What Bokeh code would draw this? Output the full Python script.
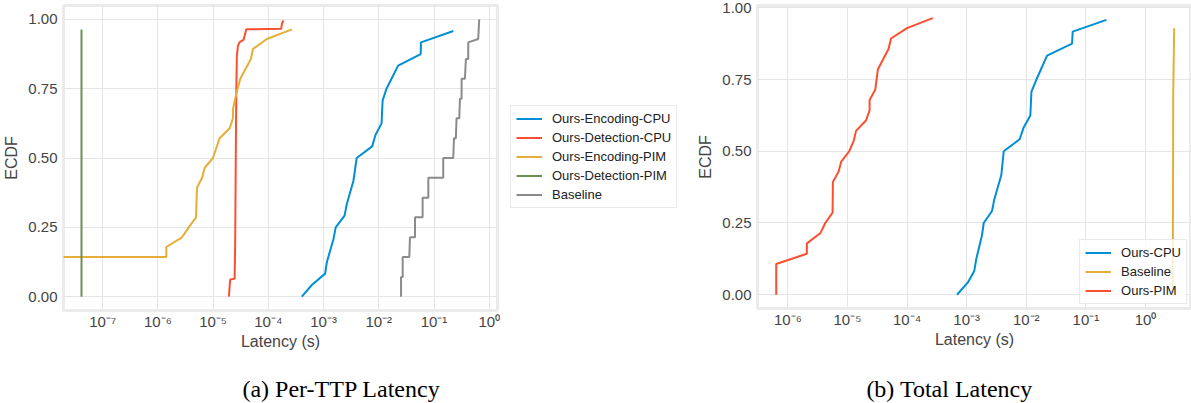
from bokeh.plotting import figure
from bokeh.models import (Range1d, FixedTicker, CustomJSTickFormatter, PrintfTickFormatter,
                          Legend, LegendItem, Label)
from bokeh.layouts import column, row
from bokeh.embed import file_html
from bokeh.resources import INLINE

# ---------------- data (latency in seconds, ECDF fraction) ----------------
# (a) Per-TTP latency
enc_cpu_x = [4.04e-4, 6.12e-4, 1.067e-3, 1.148e-3, 1.514e-3, 1.66e-3, 2.40e-3, 2.63e-3, 3.47e-3,
             3.98e-3, 7.59e-3, 8.71e-3, 1.122e-2, 1.175e-2, 1.38e-2, 2.24e-2, 5.75e-2, 5.8e-2, 0.224]
enc_cpu_y = [0.0, 0.042, 0.083, 0.125, 0.208, 0.25, 0.292, 0.333, 0.417,
             0.5, 0.542, 0.583, 0.625, 0.708, 0.75, 0.833, 0.875, 0.917, 0.958]

det_cpu_x = [1.93e-5, 1.995e-5, 2.04e-5, 2.45e-5, 2.51e-5, 2.57e-5, 2.63e-5, 2.69e-5, 2.82e-5,
             3.02e-5, 3.55e-5, 3.98e-5, 1.71e-4, 1.76e-4, 1.88e-4]
det_cpu_y = [0.0, 0.04, 0.062, 0.065, 0.2, 0.5, 0.75, 0.87, 0.905,
             0.918, 0.926, 0.964, 0.966, 0.985, 0.996]

enc_pim_x = [1e-9, 1.42e-6, 1.42e-6, 2.73e-6, 3.61e-6, 4.90e-6, 5.10e-6, 6.31e-6, 7.01e-6, 9.93e-6,
             1.14e-5, 1.31e-5, 1.99e-5, 2.28e-5, 2.30e-5, 2.51e-5, 2.77e-5, 3.10e-5, 4.83e-5,
             5.25e-5, 9.40e-5, 2.67e-4]
enc_pim_y = [0.143, 0.143, 0.179, 0.214, 0.25, 0.286, 0.393, 0.429, 0.464, 0.5,
             0.536, 0.571, 0.607, 0.643, 0.679, 0.714, 0.75, 0.786, 0.857,
             0.893, 0.929, 0.964]

det_pim_x = [4.13e-8, 4.13e-8]
det_pim_y = [0.0, 0.963]

base_a_x = [0.0253, 0.0253, 0.0271, 0.0271, 0.0357, 0.0367, 0.0453, 0.0453, 0.0622, 0.0622,
            0.0789, 0.0789, 0.147, 0.147, 0.223, 0.230, 0.249, 0.256, 0.287, 0.295,
            0.316, 0.316, 0.363, 0.378, 0.417, 0.417, 0.632, 0.659]
base_a_y = [0.0, 0.071, 0.071, 0.143, 0.143, 0.214, 0.214, 0.286, 0.286, 0.357,
            0.357, 0.429, 0.429, 0.5, 0.5, 0.571, 0.571, 0.643, 0.643, 0.714,
            0.714, 0.786, 0.786, 0.857, 0.857, 0.917, 0.929, 1.0]

# (b) Total latency
cpu_x = [6.87e-4, 1.04e-3, 1.34e-3, 1.45e-3, 1.81e-3, 1.93e-3, 2.66e-3, 2.91e-3, 3.81e-3,
         4.18e-3, 7.74e-3, 9.04e-3, 1.17e-2, 1.22e-2, 1.48e-2, 2.23e-2, 5.86e-2, 6.01e-2, 0.221]
cpu_y = [0.0, 0.042, 0.083, 0.125, 0.208, 0.25, 0.292, 0.333, 0.417,
         0.5, 0.542, 0.583, 0.625, 0.708, 0.75, 0.833, 0.875, 0.917, 0.958]

base_b_x = [2.87, 2.92, 3.03]
base_b_y = [0.0, 0.70, 0.929]

pim_x = [6.37e-7, 6.37e-7, 2.08e-6, 2.08e-6, 3.49e-6, 4.24e-6, 5.62e-6, 5.69e-6, 7.08e-6,
         7.85e-6, 1.07e-5, 1.27e-5, 1.39e-5, 2.04e-5, 2.35e-5, 2.35e-5, 2.92e-5, 3.24e-5,
         4.90e-5, 5.36e-5, 9.95e-5, 2.69e-4]
pim_y = [0.0, 0.107, 0.143, 0.179, 0.214, 0.25, 0.286, 0.393, 0.429,
         0.464, 0.5, 0.536, 0.571, 0.607, 0.643, 0.679, 0.714, 0.786,
         0.857, 0.893, 0.929, 0.964]

x_ticks_a = [1e-7, 1e-6, 1e-5, 1e-4, 1e-3, 1e-2, 1e-1, 1e0]
x_ticks_b = [1e-6, 1e-5, 1e-4, 1e-3, 1e-2, 1e-1, 1e0]
y_ticks = [0.0, 0.25, 0.5, 0.75, 1.0]

labels_a = ["Ours-Encoding-CPU", "Ours-Detection-CPU", "Ours-Encoding-PIM", "Ours-Detection-PIM", "Baseline"]
labels_b = ["Ours-CPU", "Baseline", "Ours-PIM"]
captions = ["(a) Per-TTP Latency", "(b) Total Latency"]

BLUE, RED, YELLOW, GREEN, GRAY = "#008fd5", "#fc4f30", "#e5ae38", "#6d904f", "#8b8b8b"
colors_a = [BLUE, RED, YELLOW, GREEN, GRAY]
colors_b = [BLUE, YELLOW, RED]
FONT = "Liberation Sans"
TXT = "#444444"

SUP_JS = """
const sup = {"-":"\u207b","0":"\u2070","1":"\u00b9","2":"\u00b2","3":"\u00b3","4":"\u2074",
             "5":"\u2075","6":"\u2076","7":"\u2077","8":"\u2078","9":"\u2079"};
const e = Math.round(Math.log10(tick));
let s = "";
for (const c of String(e)) { s += sup[c]; }
return "10" + s;
"""


def style(p, xticks):
    p.outline_line_color = "#ebebeb"
    p.outline_line_width = 3
    p.xaxis.ticker = FixedTicker(ticks=xticks)
    p.xaxis.formatter = CustomJSTickFormatter(code=SUP_JS)
    p.yaxis.ticker = FixedTicker(ticks=y_ticks)
    p.yaxis.formatter = PrintfTickFormatter(format="%.2f")
    for ax in (p.xaxis, p.yaxis):
        ax.major_tick_line_color = None
        ax.minor_tick_line_color = None
        ax.major_tick_out = 0
        ax.major_tick_in = 0
        ax.minor_tick_out = 0
        ax.axis_line_color = None
        ax.major_label_text_font = FONT
        ax.major_label_text_font_size = "15px"
        ax.major_label_text_color = TXT
        ax.axis_label_text_font = FONT
        ax.axis_label_text_font_size = "16px"
        ax.axis_label_text_font_style = "normal"
        ax.axis_label_text_color = TXT
    p.xaxis.major_label_standoff = 2
    p.yaxis.major_label_standoff = 6
    p.xaxis.axis_label_standoff = 0
    p.yaxis.axis_label_standoff = 5
    p.xaxis.axis_label = "Latency (s)"
    p.yaxis.axis_label = "ECDF"
    p.xgrid.grid_line_color = "#e5e5e5"
    p.ygrid.grid_line_color = "#e5e5e5"
    p.xgrid.grid_line_width = 1
    p.ygrid.grid_line_width = 1


def make_legend(items, loc):
    lg = Legend(items=items, location=loc)
    lg.label_text_font = FONT
    lg.label_text_font_size = "13px"
    lg.label_text_color = "#222222"
    lg.glyph_width = 26
    lg.glyph_height = 15
    lg.label_height = 15
    lg.spacing = 4
    lg.padding = 5
    lg.label_standoff = 10
    lg.border_line_color = "#d6d6d6"
    lg.border_line_width = 1
    lg.background_fill_color = "white"
    lg.background_fill_alpha = 0.8
    lg.inactive_fill_alpha = 0.0
    lg.margin = 4
    return lg


series_a_x = [enc_cpu_x, det_cpu_x, enc_pim_x, det_pim_x, base_a_x]
series_a_y = [enc_cpu_y, det_cpu_y, enc_pim_y, det_pim_y, base_a_y]

# ---------------- (a) ----------------
pa = figure(frame_width=434, frame_height=305, x_axis_type="log",
            x_range=Range1d(10 ** -7.71, 10 ** 0.15), y_range=Range1d(-0.05, 1.05),
            output_backend="svg", toolbar_location=None,
            min_border_left=63, min_border_top=3, min_border_bottom=47, min_border_right=3)
style(pa, x_ticks_a)
for xs, ys, c in zip(series_a_x, series_a_y, colors_a):
    pa.line(xs, ys, line_color=c, line_width=2)

# legend of (a), placed in its own strip to the right of the plot
pl = figure(width=190, height=355, x_range=Range1d(0, 1), y_range=Range1d(0, 1),
            output_backend="svg", toolbar_location=None, min_border=0,
            x_axis_location=None, y_axis_location=None)
pl.outline_line_color = None
pl.grid.visible = False
leg_r = [pl.line(xs, ys, line_color=c, line_width=2, visible=False)
         for xs, ys, c in zip(series_a_x, series_a_y, colors_a)]
lga = make_legend([LegendItem(label=l, renderers=[r]) for l, r in zip(labels_a, leg_r)], (10, 100))
lga.margin = 0
pl.add_layout(lga)

# ---------------- (b) ----------------
pb = figure(frame_width=434, frame_height=303, x_axis_type="log",
            x_range=Range1d(10 ** -6.51, 10 ** 0.772), y_range=Range1d(-0.048, 1.008),
            output_backend="svg", toolbar_location=None,
            min_border_left=67, min_border_top=5, min_border_bottom=47, min_border_right=0)
style(pb, x_ticks_b)
rb = []
for xs, ys, c in zip([cpu_x, base_b_x, pim_x], [cpu_y, base_b_y, pim_y], colors_b):
    rb.append(pb.line(xs, ys, line_color=c, line_width=2))
lgb = make_legend([LegendItem(label=l, renderers=[r]) for l, r in zip(labels_b, rb)], "bottom_right")
pb.add_layout(lgb)

# ---------------- captions ----------------
pc = figure(width=1191, height=48, x_range=Range1d(0, 1191), y_range=Range1d(0, 48),
            output_backend="svg", toolbar_location=None, min_border=0,
            x_axis_location=None, y_axis_location=None)
pc.outline_line_color = None
pc.grid.visible = False
for txt, cx in zip(captions, [341, 949]):
    pc.add_layout(Label(x=cx, y=15, text=txt, text_align="center", text_baseline="middle",
                        text_font="Liberation Serif", text_font_size="24px", text_color="black"))

root = column(row(pa, pl, pb), pc)
open("out.html", "w").write(file_html(root, INLINE))
